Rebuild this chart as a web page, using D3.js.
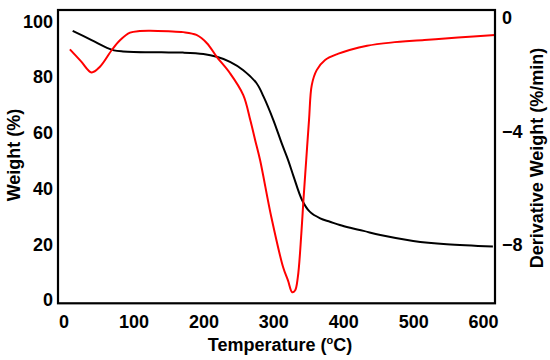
<!DOCTYPE html>
<html><head><meta charset="utf-8">
<script src="https://cdn.jsdelivr.net/npm/d3@7"></script>
<style>
body{margin:0;background:#fff}
text{font-family:"Liberation Sans",Arial,sans-serif;font-weight:bold;fill:#000}
</style>
</head><body><svg id="c" width="550" height="360"></svg>
<script>
const xTicks = [0, 100, 200, 300, 400, 500, 600];
const weightTicks = [0, 20, 40, 60, 80, 100];
const derivTicks = [0, -4, -8];

const weightT   = [13, 40, 62, 72, 85, 100, 140, 171, 200, 219, 238, 257, 276, 286, 300, 312, 321, 329, 341, 352, 367, 381, 395, 410, 429, 453, 500, 548, 614];
const weightVal = [96.6, 93.3, 90.5, 89.6, 89.2, 89.0, 88.9, 88.8, 88.3, 87.3, 85.5, 82.5, 77.8, 73.0, 64.6, 56.2, 50.3, 44.3, 35.9, 31.7, 29.3, 28.1, 26.9, 25.9, 24.8, 23.3, 21.2, 20.0, 19.2];

const derivT   = [9, 25, 40, 52, 69, 81, 95, 109, 124, 150, 171, 190, 205, 219, 238, 257, 267, 274, 281, 297, 314, 321, 327, 331, 335, 340, 343, 347, 351, 355, 362, 374, 393, 409, 434, 468, 516, 564, 617];
const derivVal = [-1.10, -1.52, -1.91, -1.71, -1.12, -0.77, -0.51, -0.45, -0.44, -0.46, -0.49, -0.59, -0.88, -1.36, -1.94, -2.71, -3.59, -4.30, -5.00, -7.00, -8.78, -9.25, -9.66, -9.60, -9.13, -7.60, -6.42, -5.00, -3.59, -2.35, -1.83, -1.47, -1.25, -1.12, -0.97, -0.86, -0.77, -0.68, -0.59];

const L = 58, R = 495, T = 10, B = 303.3;
const svg = d3.select("#c");

const x = d3.scaleLinear().domain([-8, 617]).range([L, R]);
const yL = d3.scaleLinear().domain([-1.2, 104.1]).range([B, T]);
const yR = d3.scaleLinear().domain([-10.05, 0.29]).range([B, T]);

const fs = "18px";

const gx = svg.append("g").attr("transform", `translate(0,${B})`)
  .call(d3.axisBottom(x).tickValues(xTicks).tickSize(0).tickPadding(12));
const gl = svg.append("g").attr("transform", `translate(${L},0)`)
  .call(d3.axisLeft(yL).tickValues(weightTicks).tickSize(0).tickPadding(5));
const gr = svg.append("g").attr("transform", `translate(${R},0)`)
  .call(d3.axisRight(yR).tickValues(derivTicks).tickSize(0).tickPadding(7));
[gx, gl, gr].forEach(g => {
  g.select(".domain").remove();
  g.selectAll("text").attr("font-size", fs).attr("font-family", null).attr("fill", "#000");
  g.attr("font-family", null).attr("font-size", null);
});

const lineW = d3.line().x((d, i) => x(weightT[i])).y(d => yL(d)).curve(d3.curveCatmullRom.alpha(0.5));
const lineD = d3.line().x((d, i) => x(derivT[i])).y(d => yR(d)).curve(d3.curveCatmullRom.alpha(0.5));

svg.append("path").attr("d", lineW(weightVal)).attr("fill", "none")
  .attr("stroke", "#000").attr("stroke-width", 2);
svg.append("path").attr("d", lineD(derivVal)).attr("fill", "none")
  .attr("stroke", "#ff0000").attr("stroke-width", 2);

svg.append("rect").attr("x", L).attr("y", T).attr("width", R - L).attr("height", B - T)
  .attr("fill", "none").attr("stroke", "#000").attr("stroke-width", 2.2);

const xt = svg.append("text").attr("x", 280).attr("y", 351).attr("text-anchor", "middle").attr("font-size", fs);
xt.append("tspan").text("Temperature (");
xt.append("tspan").text("o").attr("font-size", "11px").attr("dy", "-7");
xt.append("tspan").text("C)").attr("dy", "7");

svg.append("text").attr("transform", "translate(20,155) rotate(-90)")
  .attr("text-anchor", "middle").attr("font-size", fs).text("Weight (%)");
svg.append("text").attr("transform", "translate(543,158) rotate(-90)")
  .attr("text-anchor", "middle").attr("font-size", fs).text("Derivative Weight (%/min)");
</script></body></html>
